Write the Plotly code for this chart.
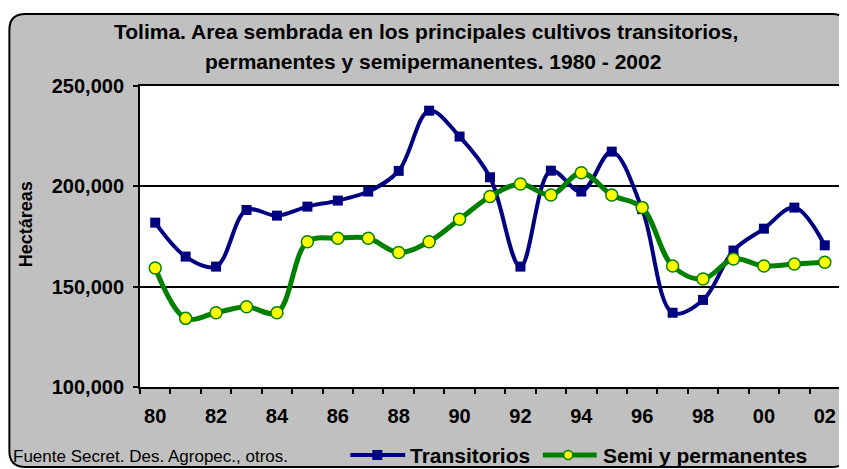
import plotly.graph_objects as go

# ---------------- data ----------------
years = list(range(1980, 2003))
tick_years = [1980, 1982, 1984, 1986, 1988, 1990, 1992, 1994, 1996, 1998, 2000, 2002]
tick_labels = ["80", "82", "84", "86", "88", "90", "92", "94", "96", "98", "00", "02"]
transitorios = [181900, 165000, 160000, 188200, 185400, 189900, 192900, 197400, 207700, 237700,
                224800, 204500, 160000, 207800, 197400, 217300, 188600, 137000, 143400, 168000,
                178900, 189400, 170600]
semi_perm = [159300, 134200, 137000, 140000, 137000, 172400, 174100, 174100, 167000, 172400,
             183600, 194900, 201200, 195700, 206800, 195700, 189400, 160300, 153800, 163800,
             160300, 161300, 162200]
y_ticks = [100000, 150000, 200000, 250000]

# ---------------- layout geometry ----------------
# the page body has an 8px margin, so the figure is 8px smaller and every
# screen position below is given in screenshot pixels
OFF = 8
W, H = 847 - OFF, 469 - OFF
L, R, T, B = 140, 842, 86, 387          # plot area in screenshot pixels
PW, PH = R - L, B - T


def px(x):
    return (x - L) / PW


def py(y):
    return (B - y) / PH


NAVY = "#000080"
GREEN = "#008000"
YELLOW = "#FFFF00"
GRAY = "#C0C0C0"
FONT = "Liberation Sans, Arial, sans-serif"

fig = go.Figure()
fig.add_trace(go.Scatter(
    x=years, y=transitorios, name="Transitorios", mode="lines+markers",
    line=dict(color=NAVY, width=4, shape="spline", smoothing=1.0),
    marker=dict(symbol="square", size=10, color=NAVY),
    showlegend=False))
fig.add_trace(go.Scatter(
    x=years, y=semi_perm, name="Semi y permanentes", mode="lines+markers",
    line=dict(color=GREEN, width=5, shape="spline", smoothing=1.0),
    marker=dict(symbol="circle", size=12, color=YELLOW, line=dict(color=GREEN, width=1.5)),
    showlegend=False))

# rounded gray chart area
x0, y0, x1, y1, r = 9, 14, 850, 467, 16
path = (f"M {px(x0 + r)} {py(y0)} L {px(x1 - r)} {py(y0)} Q {px(x1)} {py(y0)} {px(x1)} {py(y0 + r)} "
        f"L {px(x1)} {py(y1 - r)} Q {px(x1)} {py(y1)} {px(x1 - r)} {py(y1)} "
        f"L {px(x0 + r)} {py(y1)} Q {px(x0)} {py(y1)} {px(x0)} {py(y1 - r)} "
        f"L {px(x0)} {py(y0 + r)} Q {px(x0)} {py(y0)} {px(x0 + r)} {py(y0)} Z")
shapes = [
    dict(type="path", xref="paper", yref="paper", path=path, fillcolor=GRAY,
         line=dict(color="black", width=2), layer="below"),
    dict(type="rect", xref="paper", yref="paper", x0=0, x1=1, y0=0, y1=1,
         fillcolor="white", line=dict(width=0), layer="below"),
]

# manual legend
ly = 455
shapes.append(dict(type="line", xref="paper", yref="paper", x0=px(351), x1=px(406), y0=py(ly), y1=py(ly),
                   line=dict(color=NAVY, width=4)))
shapes.append(dict(type="rect", xref="paper", yref="paper", x0=px(373), x1=px(383), y0=py(ly - 5), y1=py(ly + 5),
                   fillcolor=NAVY, line=dict(width=0)))
shapes.append(dict(type="line", xref="paper", yref="paper", x0=px(544), x1=px(598), y0=py(ly), y1=py(ly),
                   line=dict(color=GREEN, width=5)))
shapes.append(dict(type="circle", xref="paper", yref="paper", x0=px(565), x1=px(574), y0=py(ly - 4.5), y1=py(ly + 4.5),
                   fillcolor=YELLOW, line=dict(color=GREEN, width=1.5)))

annotations = [
    dict(text="<b>Tolima. Area sembrada en los principales cultivos transitorios,</b>", x=px(427), y=py(31),
         xref="paper", yref="paper", showarrow=False, xanchor="center", yanchor="middle",
         font=dict(family=FONT, size=21, color="black")),
    dict(text="<b>permanentes y semipermanentes. 1980 - 2002</b>", x=px(434), y=py(61),
         xref="paper", yref="paper", showarrow=False, xanchor="center", yanchor="middle",
         font=dict(family=FONT, size=21, color="black")),
    dict(text="<b>Hectáreas</b>", x=px(26), y=py(224), xref="paper", yref="paper", showarrow=False,
         textangle=-90, xanchor="center", yanchor="middle",
         font=dict(family=FONT, size=18, color="black")),
    dict(text="Fuente Secret. Des. Agropec., otros.", x=px(11), y=py(456), xref="paper", yref="paper",
         showarrow=False, xanchor="left", yanchor="middle",
         font=dict(family=FONT, size=17, color="black")),
    dict(text="<b>Transitorios</b>", x=px(409), y=py(ly), xref="paper", yref="paper", showarrow=False,
         xanchor="left", yanchor="middle", font=dict(family=FONT, size=21, color="black")),
    dict(text="<b>Semi y permanentes</b>", x=px(602), y=py(ly), xref="paper", yref="paper", showarrow=False,
         xanchor="left", yanchor="middle", font=dict(family=FONT, size=21, color="black")),
]

fig.update_layout(
    width=W, height=H,
    margin=dict(l=L - OFF, r=W - (R - OFF), t=T - OFF, b=H - (B - OFF), pad=0),
    paper_bgcolor="white", plot_bgcolor="rgba(0,0,0,0)",
    shapes=shapes, annotations=annotations,
    font=dict(family=FONT, color="black"),
    xaxis=dict(range=[1979.5, 2002.5], tickmode="array", tickvals=tick_years, ticktext=tick_labels,
               ticks="outside", ticklen=5, tickcolor="rgba(0,0,0,0)",
               minor=dict(tickmode="array", tickvals=[y - 0.5 for y in years] + [years[-1] + 0.5],
                          ticks="outside", ticklen=5, tickcolor="black", tickwidth=1.5, showgrid=False),
               showgrid=False, zeroline=False, showline=True, mirror=True, linecolor="black", linewidth=2,
               tickfont=dict(family=FONT, size=20, color="black", weight="bold"), ticklabelstandoff=5),
    yaxis=dict(range=[100000, 250000], tickmode="array", tickvals=y_ticks, tickformat=",",
               ticks="outside", ticklen=5, tickcolor="black", tickwidth=1.5,
               showgrid=True, gridcolor="black", gridwidth=1.5, zeroline=False,
               showline=True, mirror=True, linecolor="black", linewidth=2,
               tickfont=dict(family=FONT, size=20, color="black", weight="bold"), ticklabelstandoff=5),
)

fig.write_html("out.html")
